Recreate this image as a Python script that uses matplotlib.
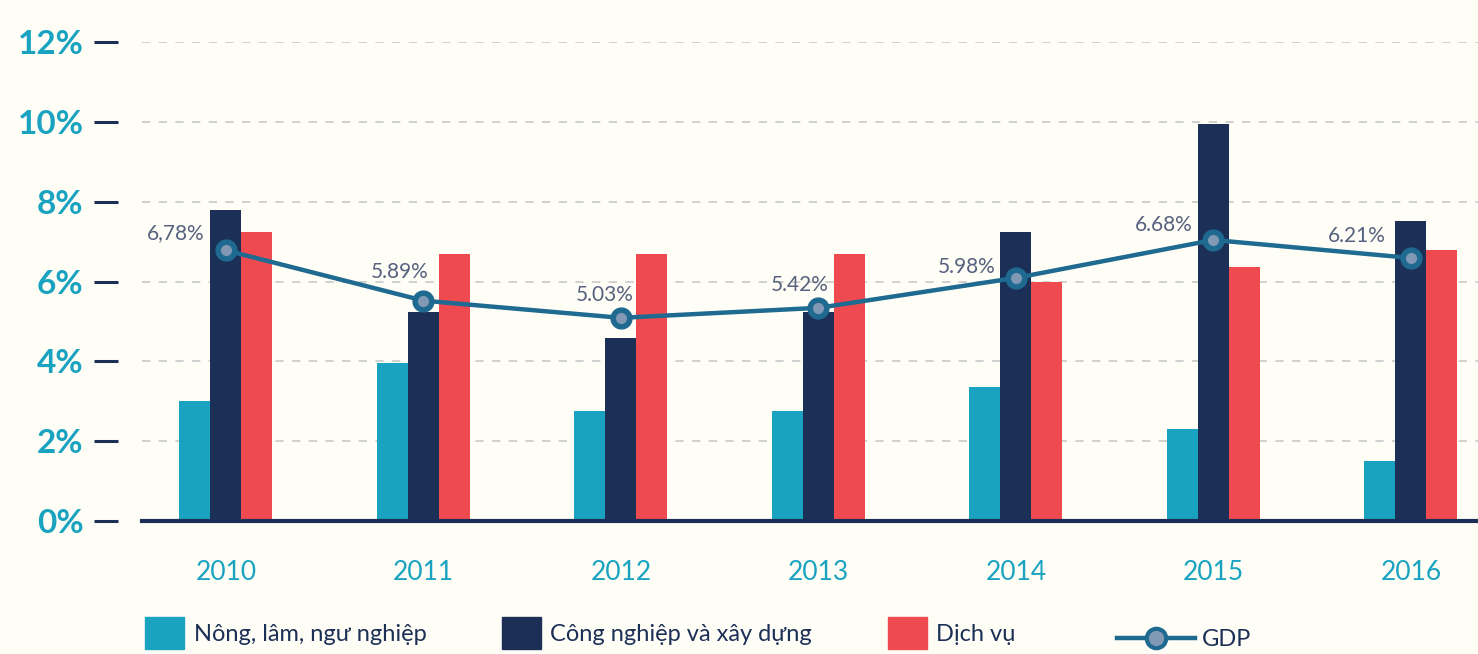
import matplotlib.pyplot as plt
from matplotlib.lines import Line2D
from matplotlib.patches import Patch
import numpy as np

plt.rcParams['font.family'] = ['Lato', 'DejaVu Sans']

years = ['2010', '2011', '2012', '2013', '2014', '2015', '2016']
nong_lam = [3.0, 3.96, 2.76, 2.76, 3.36, 2.31, 1.50]
cong_nghiep = [7.8, 5.24, 4.59, 5.24, 7.24, 9.95, 7.52]
dich_vu = [7.24, 6.69, 6.69, 6.69, 5.99, 6.37, 6.79]
gdp = [6.78, 5.52, 5.09, 5.34, 6.09, 7.04, 6.59]
gdp_labels = ['6,78%', '5.89%', '5.03%', '5.42%', '5.98%', '6.68%', '6.21%']
y_ticks = [0, 2, 4, 6, 8, 10, 12]

# label offsets in pixels (right edge, vertical centre) from the marker
label_offsets = [(-21, 17), (5, 29), (13, 23), (10, 23), (-20, 11), (-21, 15), (-25, 22)]

c_cyan = '#19a3c1'
c_navy = '#1c2f56'
c_red = '#ee4a4f'
c_line = '#1f6a90'
c_dot = '#8199b4'
bg = '#fffef6'

fig = plt.figure(figsize=(14.78, 6.54), dpi=100, facecolor=bg)
ax = fig.add_axes([142 / 1478, 133 / 654, 1 - 142 / 1478, (521 - 42) / 654])
ax.set_facecolor(bg)

# spines first, setting the position resets the ticks
for s in ['top', 'right']:
    ax.spines[s].set_visible(False)
ax.spines['left'].set_position(('outward', 17))
ax.spines['left'].set_visible(False)
ax.spines['bottom'].set_color(c_navy)
ax.spines['bottom'].set_linewidth(3)
ax.spines['bottom'].set_zorder(5)

x = np.arange(len(years))
w = 0.157
ax.bar(x - w, nong_lam, w, color=c_cyan, zorder=2)
ax.bar(x, cong_nghiep, w, color=c_navy, zorder=2)
ax.bar(x + w, dich_vu, w, color=c_red, zorder=2)

ax.plot(x, gdp, color=c_line, lw=3.2, marker='o', ms=15, mfc=c_line, mec=c_line, zorder=3)
ax.plot(x, gdp, ls='none', marker='o', ms=8, mfc=c_dot, mec='none', zorder=4)

for xi, yi, lab, off in zip(x, gdp, gdp_labels, label_offsets):
    ax.annotate(lab, (xi, yi), xytext=off, textcoords='offset pixels',
                ha='right', va='center', fontsize=15,
                color='#56617f', zorder=5)

ax.set_xlim(-0.425, 6.34)
ax.set_ylim(0, 12)
ax.set_yticks(y_ticks)
ax.set_yticklabels([f'{t}%' for t in y_ticks], fontsize=24, fontweight='bold', color=c_cyan)
ax.set_xticks(x)
ax.set_xticklabels(years, fontsize=19, color=c_cyan)

ax.yaxis.grid(True, ls=(0, (5, 5)), color='#c8c8c8', lw=1.2, zorder=0)
ax.set_axisbelow(True)

ax.tick_params(axis='y', length=17, width=2.2, color=c_navy, pad=8)
ax.tick_params(axis='x', length=0, pad=28)

bar_handles = [Patch(color=c_cyan, label='Nông, lâm, ngư nghiệp'),
               Patch(color=c_navy, label='Công nghiệp và xây dựng'),
               Patch(color=c_red, label='Dịch vụ')]
fig.legend(handles=bar_handles, loc='center left', bbox_to_anchor=(124 / 1478, 1 - 633 / 654),
           ncol=3, frameon=False, fontsize=17, handlelength=1.65, handleheight=1.65,
           handletextpad=0.4, columnspacing=3.2, labelcolor=c_navy)
line_handle = Line2D([], [], color=c_line, lw=3.2, marker='o', ms=14, mfc=c_dot, mec=c_line, mew=3,
                     label='GDP')
fig.legend(handles=[line_handle], loc='center left', bbox_to_anchor=(1096 / 1478, 1 - 640 / 654),
           frameon=False, fontsize=17, handlelength=3.3, handletextpad=0.3, labelcolor=c_navy)

fig.savefig('out.png', dpi=100, facecolor=bg)
